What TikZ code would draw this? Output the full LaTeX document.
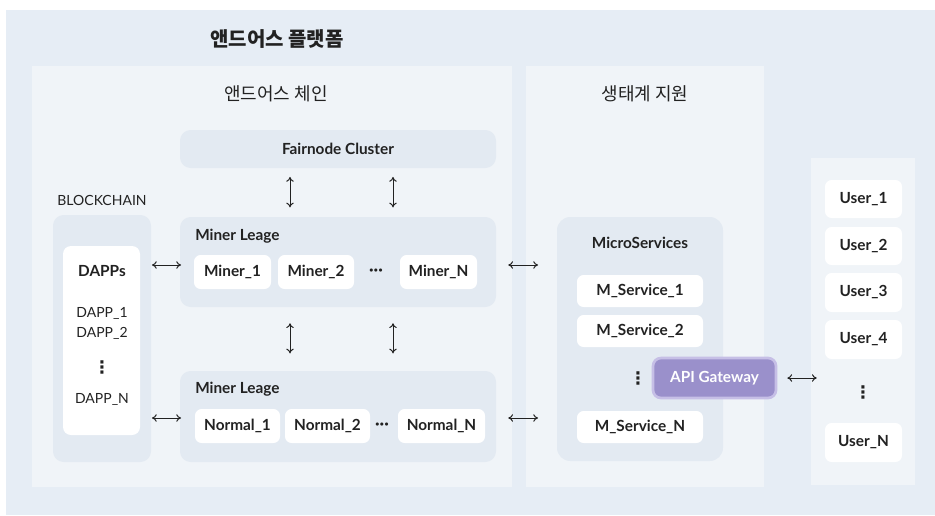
\documentclass[tikz,border=0pt]{standalone}
\usepackage{fontspec}
\setmainfont{Lato}
\newfontfamily\kr{Noto Sans CJK KR}
\newfontfamily\dv{DejaVu Sans}
\usetikzlibrary{arrows.meta}
\definecolor{outerbg}{HTML}{E6EDF5}
\definecolor{panelbg}{HTML}{F0F4F8}
\definecolor{inbox}{HTML}{E3EAF2}
\definecolor{txt}{HTML}{222222}
\definecolor{apifill}{HTML}{9A90CB}
\definecolor{apiedge}{HTML}{C6BFE6}
\newcommand\bx[7][]{\node[#1, minimum width={(#5-#3)*0.75pt}, minimum height={(#6-#4)*0.75pt}] (#2) at ({(#3+#5)/2},{(#4+#6)/2}) {#7};}
\tikzset{
  outerbox/.style={fill=outerbg, inner sep=0pt},
  panel/.style={fill=panelbg, inner sep=0pt},
  grpbox/.style={fill=inbox, rounded corners=8pt, inner sep=0pt},
  wbox/.style={fill=white, rounded corners=5pt, inner sep=0pt, font=\fontsize{11.5}{13}\selectfont\bfseries, text=txt},
  lbl/.style={font=\fontsize{11.5}{13}\selectfont\bfseries, text=txt, inner sep=0pt},
  plain/.style={font=\fontsize{10.5}{12}\selectfont, text=txt, inner sep=0pt},
  vdot/.style={font=\dv\bfseries\fontsize{13}{14}\selectfont, text=txt, inner sep=0pt},
  hdot/.style={font=\fontsize{12.5}{14}\selectfont\bfseries, text=txt, inner sep=0pt},
  apibox/.style={fill=apifill, draw=apiedge, line width=2pt, rounded corners=6pt, inner sep=0pt,
      font=\fontsize{11.5}{13}\selectfont\bfseries, text=white},
  link/.style={draw=txt, line width=0.75pt, {To[length=3.6pt,width=5.6pt]}-{To[length=3.6pt,width=5.6pt]}},
}
\begin{document}
\begin{tikzpicture}[x=0.75pt,y=-0.75pt]
\useasboundingbox (0,0) rectangle (935,515);
\fill[white] (0,0) rectangle (935,515);
\bx[outerbox]{platform}{6}{10}{935}{515}{}
\node[font=\kr\bfseries\fontsize{15}{17}\selectfont, text=txt, inner sep=0pt] (ptitle) at (277,39) {앤드어스 플랫폼};
% panels
\bx[panel]{chain}{32}{66}{512}{487}{}
\bx[panel]{eco}{526}{66}{764}{487}{}
\bx[panel]{users}{811}{158}{915}{485}{}
\node[font=\kr\fontsize{13.5}{16}\selectfont, text=txt, inner sep=0pt] (chaint) at (276,94) {앤드어스 체인};
\node[font=\kr\fontsize{13.5}{16}\selectfont, text=txt, inner sep=0pt] (ecot) at (645,94) {생태계 지원};
% fairnode
\bx[grpbox, font=\fontsize{11.5}{13}\selectfont\bfseries, text=txt]{fair}{180}{130}{496}{168}{Fairnode Cluster}
% miner league 1
\bx[grpbox]{ml1}{180}{217}{496}{307}{}
\node[lbl, anchor=west] (ml1t) at (195,236) {Miner Leage};
\bx[wbox]{m1}{194}{255}{271}{289}{Miner\_1}
\bx[wbox]{m2}{278}{255}{354}{289}{Miner\_2}
\node[hdot] (mdots) at (376,272) {···};
\bx[wbox]{mn}{400}{255}{477}{289}{Miner\_N}
% miner league 2
\bx[grpbox]{ml2}{180}{371}{496}{462}{}
\node[lbl, anchor=west] (ml2t) at (195,389) {Miner Leage};
\bx[wbox]{n1}{195}{409}{280}{443}{Normal\_1}
\bx[wbox]{n2}{285}{409}{370}{443}{Normal\_2}
\node[hdot] (ndots) at (382,426) {···};
\bx[wbox]{nn}{398}{409}{485}{443}{Normal\_N}
% blockchain
\node[font=\fontsize{10.5}{12}\selectfont, text=txt, inner sep=0pt] (bct) at (102,200) {BLOCKCHAIN};
\bx[grpbox]{bc}{53}{215}{151}{462}{}
\bx[fill=white, rounded corners=6pt, inner sep=0pt]{dapps}{63}{246}{140}{435}{}
\node[lbl] (dappst) at (102,271) {DAPPs};
\node[plain] (d1) at (102,313) {DAPP\_1};
\node[plain] (d2) at (102,333) {DAPP\_2};
\node[vdot] (dd) at (102,367) {⋮};
\node[plain] (dn) at (102,399) {DAPP\_N};
% microservices
\bx[grpbox, rounded corners=10pt]{micro}{557}{217}{723}{461}{}
\node[lbl] (microt) at (640,243) {MicroServices};
\bx[wbox]{s1}{577}{275}{703}{307}{M\_Service\_1}
\bx[wbox]{s2}{577}{315}{703}{347}{M\_Service\_2}
\node[vdot] (sd) at (638,378) {⋮};
\bx[wbox]{sn}{577}{411}{703}{443}{M\_Service\_N}
\bx[apibox]{api}{653}{358}{776}{398}{API Gateway}
% users
\bx[wbox]{u1}{825}{180}{902}{218}{User\_1}
\bx[wbox]{u2}{825}{227}{902}{265}{User\_2}
\bx[wbox]{u3}{825}{273}{902}{312}{User\_3}
\bx[wbox]{u4}{825}{320}{902}{359}{User\_4}
\node[vdot] (ud) at (863,392) {⋮};
\bx[wbox]{un}{825}{423}{902}{462}{User\_N}
% helper coordinates
\coordinate (xa) at (290,0);
\coordinate (xb) at (393,0);
\coordinate (ya) at (0,265);
\coordinate (yb) at (0,418);
% connectors
\draw[link, shorten <=6.5pt, shorten >=7pt] (fair.south -| xa) -- (ml1.north -| xa);
\draw[link, shorten <=6.5pt, shorten >=7pt] (fair.south -| xb) -- (ml1.north -| xb);
\draw[link, shorten <=12pt, shorten >=13pt] (ml1.south -| xa) -- (ml2.north -| xa);
\draw[link, shorten <=12pt, shorten >=13pt] (ml1.south -| xb) -- (ml2.north -| xb);
\draw[link, shorten <=0.5pt, shorten >=-1pt] (bc.east |- ya) -- (ml1.west |- ya);
\draw[link, shorten <=0.5pt, shorten >=-1pt] (bc.east |- yb) -- (ml2.west |- yb);
\draw[link, shorten <=9pt, shorten >=14pt] (ml1.east |- ya) -- (micro.west |- ya);
\draw[link, shorten <=9pt, shorten >=14pt] (ml2.east |- yb) -- (micro.west |- yb);
\draw[link, shorten <=7.5pt, shorten >=6pt] (api.east) -- (api.east -| u4.west);
\end{tikzpicture}
\end{document}
